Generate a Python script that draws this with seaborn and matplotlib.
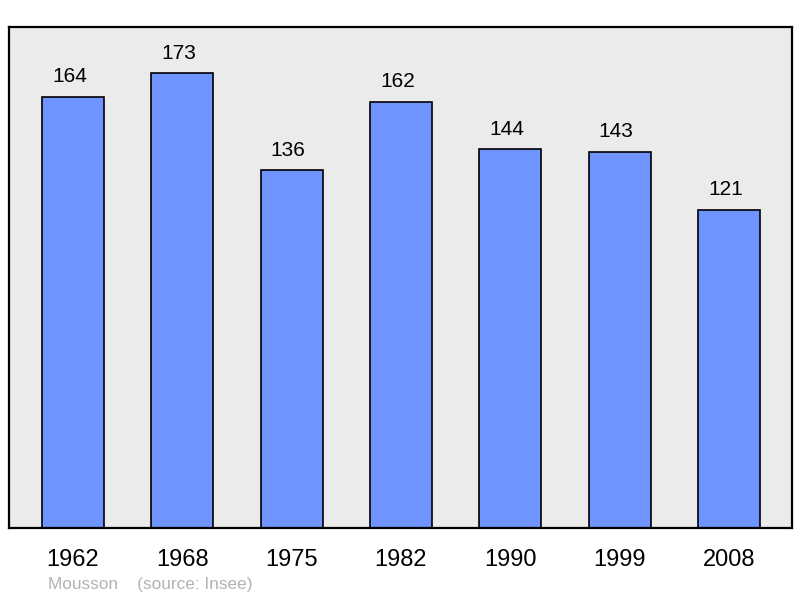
import matplotlib
matplotlib.use("Agg")
import matplotlib.pyplot as plt
import seaborn as sns
import pandas as pd

years = ["1962", "1968", "1975", "1982", "1990", "1999", "2008"]
population = [164, 173, 136, 162, 144, 143, 121]
credit_text = "Mousson    (source: Insee)"


def main():
    sns.set_theme(style="white")
    plt.rcParams["font.family"] = ["Liberation Sans", "DejaVu Sans"]

    df = pd.DataFrame({"year": years, "pop": population})

    fig = plt.figure(figsize=(8.0, 5.98), dpi=100)
    ax = fig.add_axes([9 / 800, 1 - 528 / 598, 783 / 800, 501 / 598])
    ax.set_facecolor("#ebebeb")

    sns.barplot(data=df, x="year", y="pop", color="#7094ff", saturation=1,
                width=0.567, edgecolor="black", linewidth=1.2, ax=ax)

    ax.set_xlim(-0.585, 6.576)
    ax.set_ylim(0, 190.5)

    # value labels above bars, a bit left of centre like the original
    for i, v in enumerate(population):
        ax.annotate(str(v), (i, v), xytext=(-2.5, 14.4), textcoords="offset points",
                    ha="center", va="center", fontsize=15, color="black")

    ax.set_xlabel("")
    ax.set_ylabel("")
    ax.set_yticks([])
    ax.tick_params(axis="x", length=0, pad=15, labelsize=17, colors="black")
    for s in ax.spines.values():
        s.set_visible(True)
        s.set_color("black")
        s.set_linewidth(1.6)

    fig.text(48 / 800, 1 - 584 / 598, credit_text, fontsize=12.4, color="#b3b3b3",
             ha="left", va="center")

    fig.savefig("out.png", dpi=100)


main()
